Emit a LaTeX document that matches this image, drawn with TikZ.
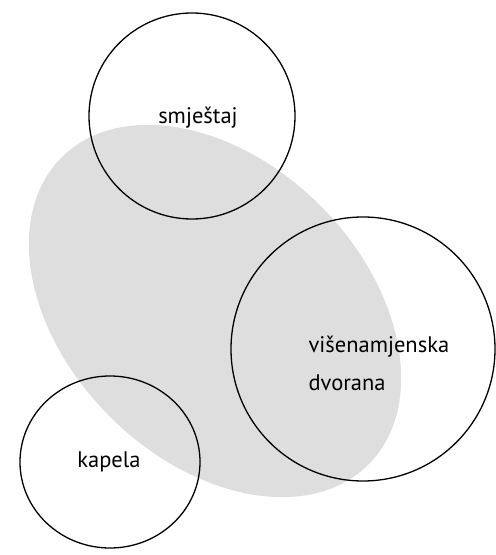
\documentclass[tikz,border=0pt]{standalone}
\usepackage{fontspec}
\setmainfont{PT Sans}
\usetikzlibrary{shapes.geometric}
\definecolor{zona}{gray}{0.87}
\begin{document}
\begin{tikzpicture}[x=1pt,y=1pt,
    prostor/.style={draw,line width=1.3pt,inner sep=0pt},
    naziv/.style={font=\fontsize{22.5}{38}\selectfont}]
    \useasboundingbox (0,0) rectangle (496,555);

    \fill[zona,rotate around={-45:(215,244)}] (215,244) ellipse [x radius=217, y radius=149];

    \node[prostor,circle,minimum size=206pt] (S) at (192,439) {};
    \node[prostor,circle,minimum size=264pt] (D) at (363,206) {};
    \node[prostor,ellipse,minimum width=180pt,minimum height=172pt] (K) at (110,93) {};

    \node[naziv] (S1) at (198,437) {smještaj};
    \node[naziv,align=left,anchor=west] (D1) at (305,192) {višenamjenska\\dvorana};
    \node[naziv] (K1) at (109,93) {kapela};
\end{tikzpicture}
\end{document}
